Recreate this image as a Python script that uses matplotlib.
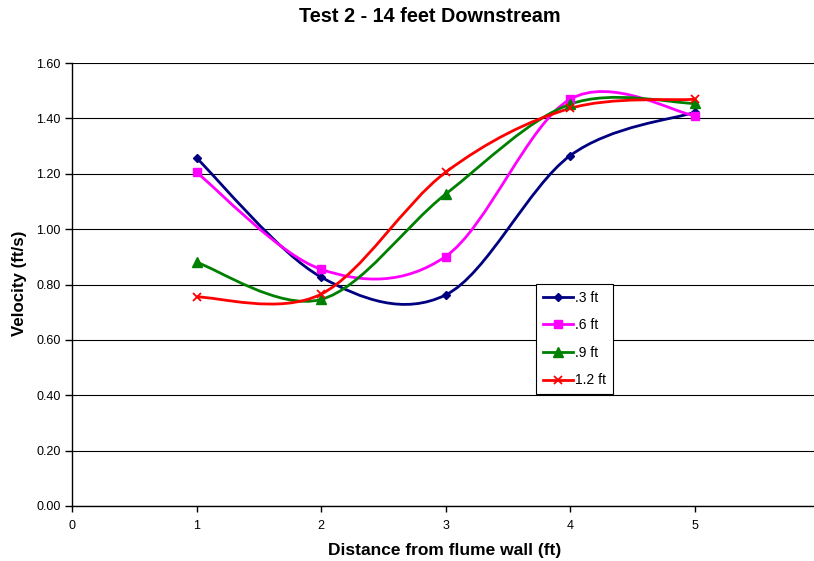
import matplotlib
matplotlib.use("Agg")
import matplotlib.pyplot as plt
from matplotlib.path import Path
from matplotlib.patches import PathPatch
from matplotlib.lines import Line2D

plt.rcParams['font.family'] = ['Liberation Sans', 'DejaVu Sans']

# Measurement positions across the flume (ft)
distance = [1, 2, 3, 4, 5]

# Velocity (ft/s) at each depth
v_03 = [1.257, 0.827, 0.762, 1.265, 1.422]
v_06 = [1.205, 0.855, 0.901, 1.469, 1.410]
v_09 = [0.880, 0.746, 1.126, 1.451, 1.454]
v_12 = [0.755, 0.765, 1.205, 1.436, 1.469]

series_labels = ['.3 ft', '.6 ft', '.9 ft', '1.2 ft']

styles = [
    dict(color='#000080', marker='D', ms=4.0),
    dict(color='#FF00FF', marker='s', ms=5.5),
    dict(color='#008000', marker='^', ms=7.0),
    dict(color='#FF0000', marker='x', ms=6.0),
]


def smooth_path(xs, ys):
    """Cubic Bezier path through the points (Catmull-Rom style smoothing)."""
    pts = list(zip(xs, ys))
    n = len(pts)
    verts = [pts[0]]
    codes = [Path.MOVETO]
    for i in range(n - 1):
        p0 = pts[i - 1] if i > 0 else pts[i]
        p1 = pts[i]
        p2 = pts[i + 1]
        p3 = pts[i + 2] if i + 2 < n else pts[i + 1]
        c1 = (p1[0] + (p2[0] - p0[0]) / 6.0, p1[1] + (p2[1] - p0[1]) / 6.0)
        c2 = (p2[0] - (p3[0] - p1[0]) / 6.0, p2[1] - (p3[1] - p1[1]) / 6.0)
        verts += [c1, c2, p2]
        codes += [Path.CURVE4] * 3
    return Path(verts, codes)


fig = plt.figure(figsize=(8.14, 5.61), dpi=100)
ax = fig.add_axes([72 / 814, 1 - 506 / 561, 747 / 814, 443 / 561])

handles = []
for ys, st, lab in zip([v_03, v_06, v_09, v_12], styles, series_labels):
    patch = PathPatch(smooth_path(distance, ys), facecolor='none',
                      edgecolor=st['color'], lw=2.0, zorder=3)
    ax.add_patch(patch)
    mk = dict(marker=st['marker'], markersize=st['ms'], color=st['color'])
    if st['marker'] == 'x':
        mk['markeredgewidth'] = 1.3
    ax.plot(distance, ys, linestyle='none', zorder=4, **mk)
    handles.append(Line2D([], [], lw=2.0, label=lab, **mk))

ax.set_xlim(0, 6)
ax.set_ylim(0, 1.6)
ax.set_xticks([0, 1, 2, 3, 4, 5])
ax.set_yticks([i * 0.2 for i in range(9)])
ax.set_yticklabels([f"{i * 0.2:.2f}" for i in range(9)])
ax.yaxis.grid(True, color='black', lw=0.8)
ax.set_axisbelow(True)
for side in ('top', 'right'):
    ax.spines[side].set_visible(False)
ax.spines['left'].set_linewidth(1.0)
ax.spines['bottom'].set_linewidth(1.0)
ax.tick_params(axis='y', direction='out', length=5, width=1.0, labelsize=9, pad=3)
ax.tick_params(axis='x', direction='out', length=4, width=1.0, labelsize=9, pad=6)

fig.text(430 / 814, 1 - 17 / 561, 'Test 2 - 14 feet Downstream',
         ha='center', va='center', fontsize=14.3, fontweight='bold')
fig.text(445 / 814, 1 - 550 / 561, 'Distance from flume wall (ft)',
         ha='center', va='center', fontsize=12.5, fontweight='bold')
fig.text(20 / 814, 1 - 283 / 561, 'Velocity (ft/s)', rotation=90,
         ha='center', va='center', fontsize=12.2, fontweight='bold')

leg = ax.legend(handles=handles, loc='upper left', bbox_to_anchor=(0.6215, 0.502),
                borderaxespad=0, fontsize=10, frameon=True, fancybox=False,
                edgecolor='black', framealpha=1, labelspacing=0.98,
                handlelength=2.15, handletextpad=0.15, borderpad=0.5)
leg.get_frame().set_linewidth(0.8)

fig.savefig('out.png', dpi=100)
